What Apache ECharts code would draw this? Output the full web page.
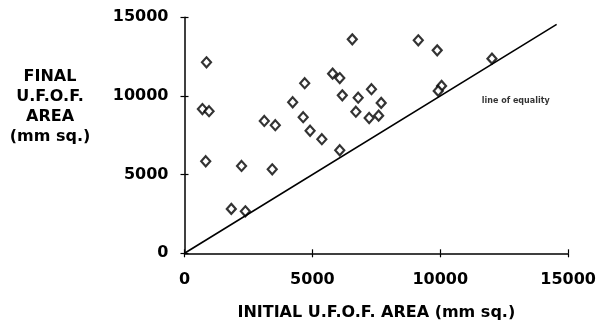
<!DOCTYPE html>
<html>
<head>
<meta charset="utf-8">
<script src="https://cdn.jsdelivr.net/npm/echarts@6/dist/echarts.min.js"></script>
<style>
  html, body { margin: 0; padding: 0; background: #fff; }
  #chart { width: 599px; height: 327px; }
</style>
</head>
<body>
<div id="chart"></div>
<script>
// initial vs final U.F.O.F. area (mm sq.)
const initialArea = [860, 700, 960, 830, 2230, 1830, 2380, 3120, 3550, 3430,
  4230, 4700, 4640, 4910, 5370, 5790, 6070, 6560, 6170, 6790,
  7310, 7690, 6700, 7220, 7590, 6070, 9140, 9880, 12020, 10050, 9920];
const finalArea = [12140, 9170, 9030, 5850, 5550, 2820, 2670, 8410, 8140, 5340,
  9600, 10810, 8650, 7790, 7250, 11420, 11140, 13600, 10040, 9890,
  10430, 9560, 9000, 8600, 8750, 6550, 13540, 12900, 12370, 10640, 10320];
const equalityLine = [[0, 0], [14550, 14550]];
const equalityLabelAt = [12950, 9680];
const axisTicks = [0, 5000, 10000, 15000];

const font = '"DejaVu Sans", Verdana, sans-serif';
const points = initialArea.map((x, i) => [x, finalArea[i]]);

const chart = echarts.init(document.getElementById('chart'));

const baseAxis = {
  type: 'value',
  min: axisTicks[0],
  max: axisTicks[axisTicks.length - 1],
  interval: 5000,
  splitLine: { show: false },
  axisLine: { show: true, onZero: false, lineStyle: { color: '#000', width: 1.5 } },
  axisTick: { show: true, length: 4, lineStyle: { color: '#000', width: 1.2 } },
  axisLabel: {
    color: '#000', fontFamily: font, fontWeight: 'bold', fontSize: 16,
    formatter: v => String(v)
  }
};
// second copy of each axis just for ticks pointing inward (ticks cross the axis)
const innerAxis = {
  type: 'value',
  min: axisTicks[0],
  max: axisTicks[axisTicks.length - 1],
  interval: 5000,
  splitLine: { show: false },
  axisLine: { show: false },
  axisLabel: { show: false },
  axisTick: { show: true, inside: true, length: 4, lineStyle: { color: '#000', width: 1.2 } }
};

chart.setOption({
  animation: false,
  backgroundColor: '#fff',
  grid: { left: 184.5, right: 27, top: 17.3, bottom: 73.7 },
  // y title sits horizontally, left of the axis
  graphic: [{
    type: 'text',
    x: 50,
    y: 67,
    style: {
      text: 'FINAL\nU.F.O.F.\nAREA\n(mm sq.)',
      fill: '#000',
      font: 'bold 16px ' + font,
      lineHeight: 20,
      align: 'center',
      verticalAlign: 'top'
    }
  }],
  xAxis: [
    Object.assign({}, baseAxis, {
      name: 'INITIAL U.F.O.F. AREA (mm sq.)',
      nameLocation: 'middle',
      nameGap: 52,
      nameTextStyle: { color: '#000', fontFamily: font, fontWeight: 'bold', fontSize: 16 },
      axisLabel: Object.assign({}, baseAxis.axisLabel, { margin: 19 })
    }),
    Object.assign({}, innerAxis, { position: 'bottom' })
  ],
  yAxis: [
    Object.assign({}, baseAxis, {
      axisLabel: Object.assign({}, baseAxis.axisLabel, { margin: 16 })
    }),
    Object.assign({}, innerAxis, { position: 'left' })
  ],
  series: [
    {
      type: 'line',
      data: equalityLine,
      symbol: 'none',
      lineStyle: { color: '#000', width: 1.6 },
      silent: true
    },
    {
      type: 'scatter',
      data: points,
      symbol: 'diamond',
      symbolSize: [9, 10],
      itemStyle: { color: '#fff', borderColor: '#000', borderWidth: 2.2 }
    },
    {
      type: 'scatter',
      data: [equalityLabelAt],
      symbolSize: 0,
      label: {
        show: true,
        position: 'inside',
        formatter: 'line of equality',
        color: '#000',
        fontFamily: font,
        fontWeight: 'bold',
        fontSize: 8
      }
    }
  ]
});
</script>
</body>
</html>
